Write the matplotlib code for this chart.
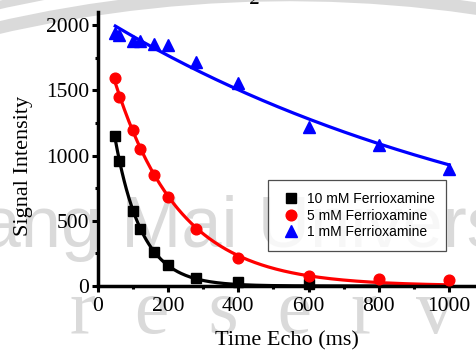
import numpy as np
import matplotlib
matplotlib.use("Agg")
from matplotlib import pyplot as plt
from matplotlib.patches import Arc

# Echo times (ms) and measured signal for the three ferrioxamine concentrations
te_10mm = [50, 60, 100, 120, 160, 200, 280, 400, 600]
sig_10mm = [1151, 956, 578, 437, 258, 161, 62, 33, 15]

te_5mm = [50, 60, 100, 120, 160, 200, 280, 400, 600, 800, 1000]
sig_5mm = [1591, 1450, 1197, 1051, 847, 683, 435, 217, 77, 51, 46]

te_1mm = [50, 60, 100, 120, 160, 200, 280, 400, 600, 800, 1000]
sig_1mm = [1939, 1925, 1876, 1876, 1858, 1845, 1718, 1555, 1215, 1082, 895]

labels = ['10 mM Ferrioxamine', '5 mM Ferrioxamine', '1 mM Ferrioxamine']
colors = ['black', 'red', 'blue']
markers = ['s', 'o', '^']
msizes = [7, 7.7, 9]

serif = 'Liberation Serif'
sans = 'Liberation Sans'
W, H = 476, 354


def t2_fit(te, sig):
    # mono-exponential fit S = S0 * exp(-TE/T2), weighted log-linear least squares
    te = np.asarray(te, float)
    sig = np.asarray(sig, float)
    slope, intercept = np.polyfit(te, np.log(sig), 1, w=sig)
    return np.exp(intercept), -1.0 / slope


fig = plt.figure(figsize=(W / 100, H / 100), dpi=100)

# faint background watermark
wm = '#dadada'
fig.text(-128 / W, 1 - 247 / H, 'Chiang Mai University', fontsize=52,
         family=sans, color=wm, zorder=-1)
fig.text(70 / W, 1 - 333 / H, 'r  e  s  e  r  v  e  d', fontsize=56,
         family=serif, color=wm, zorder=-1)
for rad, lw in [(1305, 9), (1327, 6)]:
    fig.add_artist(Arc((289 / W, 1 - 1300 / H), 2 * rad / W, 2 * rad / H,
                       theta1=80, theta2=125, transform=fig.transFigure,
                       color=wm, lw=lw, zorder=-1))
fig.text(255 / W, 1 - 4 / H, '2', fontsize=15, family=serif, ha='center',
         va='baseline', style='italic')

ax = fig.add_axes([97.7 / W, 1 - 286 / H, (W - 97.7) / W, 274 / H])
ax.patch.set_alpha(0)

series = [(te_10mm, sig_10mm), (te_5mm, sig_5mm), (te_1mm, sig_1mm)]
for (te, sig), lab, c, m, ms in zip(series, labels, colors, markers, msizes):
    s0, t2 = t2_fit(te, sig)
    tt = np.linspace(min(te), max(te_5mm), 300)
    ax.plot(tt, s0 * np.exp(-tt / t2), color=c, lw=2.3, zorder=2)
    ax.plot(te, sig, linestyle='none', marker=m, markersize=ms, color=c,
            label=lab, zorder=3, clip_on=False)

ax.set_xlim(0, (W - 97.7) / 0.3515)
ax.set_ylim(0, 2100)
ax.set_xticks([0, 200, 400, 600, 800, 1000])
ax.set_xticks([100, 300, 500, 700, 900], minor=True)
ax.set_yticks([0, 500, 1000, 1500, 2000])
ax.set_yticks([250, 750, 1250, 1750], minor=True)

for side in ['top', 'right']:
    ax.spines[side].set_visible(False)
for side in ['left', 'bottom']:
    ax.spines[side].set_linewidth(2.5)
ax.tick_params(which='major', direction='out', length=4.5, width=2.2, labelsize=15.5)
ax.tick_params(axis='x', which='major', pad=3.5)
ax.tick_params(axis='y', which='major', pad=1.5)
ax.tick_params(which='minor', direction='out', length=2.5, width=2.2)
for lbl in ax.get_xticklabels() + ax.get_yticklabels():
    lbl.set_family(serif)

ax.set_xlabel('Time Echo (ms)', fontsize=16, family=serif, labelpad=11)
ax.set_ylabel('Signal Intensity', fontsize=16, family=serif)
ax.yaxis.set_label_coords(-0.171, 0.44)

leg = ax.legend(loc='upper left', bbox_to_anchor=(0.449, 0.387), borderaxespad=0,
                prop={'family': sans, 'size': 10}, frameon=True, fancybox=False,
                labelspacing=0.2, handlelength=1.7, handletextpad=0.26,
                borderpad=0.85, numpoints=1)
leg.get_frame().set_edgecolor('#222222')
leg.get_frame().set_linewidth(0.9)

plt.savefig('out.png', dpi=100)
